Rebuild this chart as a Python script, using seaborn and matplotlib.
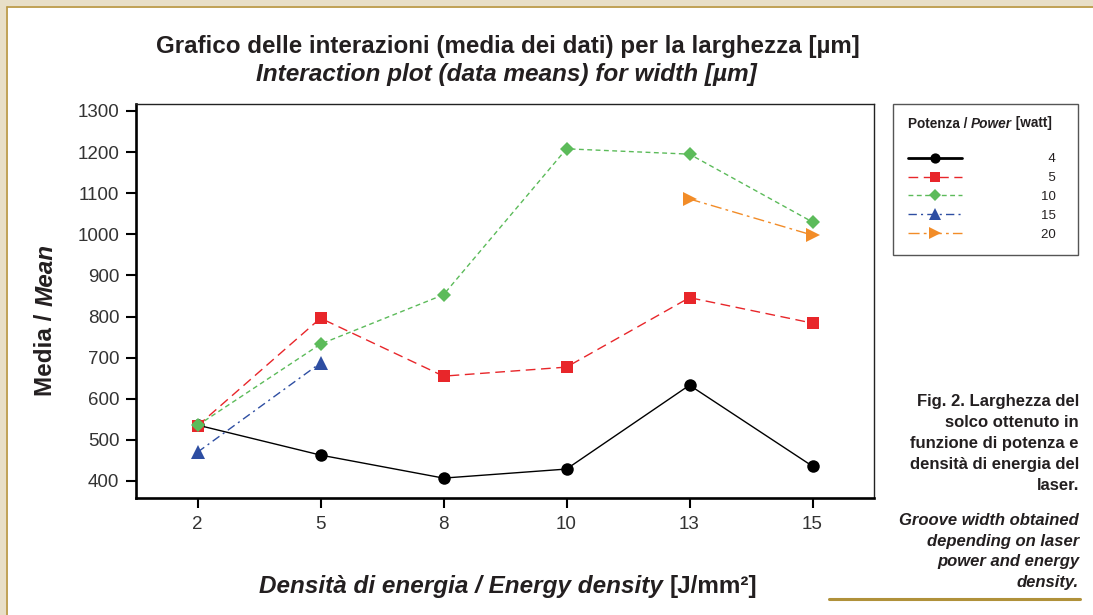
import matplotlib
matplotlib.use("Agg")
import matplotlib.pyplot as plt
import seaborn as sns
import pandas as pd
import numpy as np
from matplotlib.transforms import IdentityTransform
from matplotlib.patches import Rectangle
from matplotlib.lines import Line2D

# ---------------- data ----------------
energy_density = ["2", "5", "8", "10", "13", "15"]
power_levels = ["4", "5", "10", "15", "20"]
mean_p4 = [536, 463, 407, 429, 633, 436]
mean_p5 = [534, 796, 655, 677, 846, 784]
mean_p10 = [535, 733, 853, 1208, 1195, 1030]
mean_p15 = [470, 687, None, None, None, None]
mean_p20 = [None, None, None, None, 1086, 998]
y_ticks = [400, 500, 600, 700, 800, 900, 1000, 1100, 1200, 1300]

series = {"4": mean_p4, "5": mean_p5, "10": mean_p10, "15": mean_p15, "20": mean_p20}
rows = []
for p in power_levels:
    for x, v in zip(energy_density, series[p]):
        if v is not None:
            rows.append({"Energy": x, "Mean": v, "Power": p})
df = pd.DataFrame(rows)

# ---------------- style ----------------
sns.set_style("ticks")
plt.rcParams["font.family"] = ["Liberation Sans", "DejaVu Sans"]
TXT = "#231f20"

W, H = 1093, 615
fig = plt.figure(figsize=(W / 100, H / 100), dpi=100)
fig.patch.set_facecolor("white")

# page decoration (tan border + gold rules)
fig.patches.append(Rectangle((0, 1 - 6 / H), 1, 6 / H, transform=fig.transFigure,
                             facecolor="#e8dfc8", edgecolor="none", zorder=0))
fig.patches.append(Rectangle((0, 0), 6 / W, 1, transform=fig.transFigure,
                             facecolor="#e8dfc8", edgecolor="none", zorder=0))
fig.lines.append(Line2D([6.5 / W, 1], [1 - 7 / H, 1 - 7 / H], transform=fig.transFigure,
                        color="#bb9a48", lw=1.3))
fig.lines.append(Line2D([7 / W, 7 / W], [0, 1 - 7 / H], transform=fig.transFigure,
                        color="#bb9a48", lw=1.3))
fig.lines.append(Line2D([829 / W, 1080 / W], [1 - 599 / H, 1 - 599 / H], transform=fig.transFigure,
                        color="#b0913a", lw=2.2))

ax = fig.add_axes([136 / W, 1 - 498 / H, (874 - 136) / W, (498 - 104) / H])

palette = {"4": "#000000", "5": "#e8262a", "10": "#5cbb5a", "15": "#2e4ea2", "20": "#f28c28"}
markers = {"4": "o", "5": "s", "10": "D", "15": "^", "20": ">"}
dashes = {"4": "", "5": (7, 4), "10": (3.5, 2.5), "15": (6, 3, 1.5, 3), "20": (8, 3, 2, 3)}
msizes = {"o": 9, "s": 9.2, "D": 7.6, "^": 10, ">": 10}

sns.lineplot(data=df, x="Energy", y="Mean", hue="Power", style="Power",
             hue_order=power_levels, style_order=power_levels,
             palette=palette, markers=markers, dashes=dashes, sort=False,
             markersize=9, markeredgewidth=0, linewidth=1.0, ax=ax, legend=True)

for line in ax.get_lines():
    m = line.get_marker()
    if m in msizes:
        line.set_markersize(msizes[m])

ax.set_xlim(-0.5, 5.5)
ax.set_ylim(358.6, 1317)
ax.set_yticks(y_ticks)
ax.set_yticklabels([str(t) for t in y_ticks])
ax.set_xlabel("")
ax.set_ylabel("")
ax.tick_params(axis="both", labelsize=13.5, labelcolor="#333333", color="black",
               direction="out", length=7, width=1.5)
ax.tick_params(axis="x", pad=6)
ax.tick_params(axis="y", pad=5)
for side in ("left", "bottom"):
    ax.spines[side].set_linewidth(1.9)
    ax.spines[side].set_color("black")
for side in ("top", "right"):
    ax.spines[side].set_linewidth(1.0)
    ax.spines[side].set_color("#222222")
    ax.spines[side].set_visible(True)

# legend
handles, labels = ax.get_legend_handles_labels()
pad_labels = [(("\u2007" + l) if len(l) == 1 else l) + "\u2007" for l in labels]
leg = ax.legend(handles, pad_labels, loc="upper left",
                bbox_to_anchor=(893 / W, 1 - 104 / H), bbox_transform=fig.transFigure,
                title=" ", title_fontsize=21, fontsize=9.5, frameon=True, fancybox=False,
                edgecolor="#555555", framealpha=1, handlelength=4.1, handletextpad=6.0,
                labelspacing=0.5, borderpad=1.1, borderaxespad=0)
leg.get_frame().set_linewidth(1.0)
for t in leg.get_texts():
    t.set_color(TXT)
for h in leg.legend_handles:
    m = h.get_marker()
    h.set_markersize(msizes.get(m, 9) * 0.82)
    if m == "o":
        h.set_linewidth(2.0)

# ---------------- rich text helper ----------------
renderer = fig.canvas.get_renderer()


def _w(s, **kw):
    a = fig.text(0, 0, "|" + s + "|", transform=IdentityTransform(), **kw)
    b = fig.text(0, 0, "||", transform=IdentityTransform(), **kw)
    w = a.get_window_extent(renderer).width - b.get_window_extent(renderer).width
    a.remove(); b.remove()
    return w


def rich(parts, x, y_img, ha="center", rotation=0, size=15, color=TXT, weight="bold"):
    ws = [_w(s, fontsize=size, fontweight=weight, fontstyle=st) for s, st in parts]
    total = sum(ws)
    if rotation == 0:
        y = H - y_img
        start = x - total / 2 if ha == "center" else (x - total if ha == "right" else x)
        for (s, st), w in zip(parts, ws):
            fig.text(start, y, s, transform=IdentityTransform(), fontsize=size, fontweight=weight,
                     fontstyle=st, color=color, ha="left", va="baseline")
            start += w
    else:
        yc = H - y_img
        start = yc - total / 2
        for (s, st), w in zip(parts, ws):
            fig.text(x, start, s, transform=IdentityTransform(), fontsize=size, fontweight=weight,
                     fontstyle=st, color=color, ha="left", va="baseline",
                     rotation=90, rotation_mode="anchor")
            start += w


# titles
rich([("Grafico delle interazioni (media dei dati) per la larghezza [\u00b5m]", "normal")], 508, 53.5, size=17.4)
rich([("Interaction plot (data means) for width [\u00b5m]", "italic")], 506, 81.5, size=17.6)

# axis labels
rich([("Densit\u00e0 di energia / Energy density ", "italic"), ("[J/mm\u00b2]", "normal")], 508, 593, size=17.5)
rich([("Media / ", "normal"), ("Mean", "italic")], 52.5, 320, rotation=90, size=17.5)

# legend title
rich([("Potenza / ", "normal"), ("Power", "italic"), (" [watt]", "normal")], 908, 127.5, ha="left", size=9.8)

# side caption
cap_fam = ["Liberation Sans Narrow", "Liberation Sans", "DejaVu Sans"]
cap1 = ["Fig. 2. Larghezza del", "solco ottenuto in", "funzione di potenza e",
        "densit\u00e0 di energia del", "laser."]
cap2 = ["Groove width obtained", "depending on laser", "power and energy", "density."]
for i, s in enumerate(cap1):
    fig.text(1079, H - (406 + 21 * i), s, transform=IdentityTransform(), ha="right", va="baseline",
             fontsize=12, fontweight="bold", family=cap_fam, color=TXT)
for i, s in enumerate(cap2):
    fig.text(1079, H - (525 + 20.7 * i), s, transform=IdentityTransform(), ha="right", va="baseline",
             fontsize=12, fontweight="bold", fontstyle="italic", family=cap_fam, color=TXT)

fig.savefig("out.png", dpi=100)
